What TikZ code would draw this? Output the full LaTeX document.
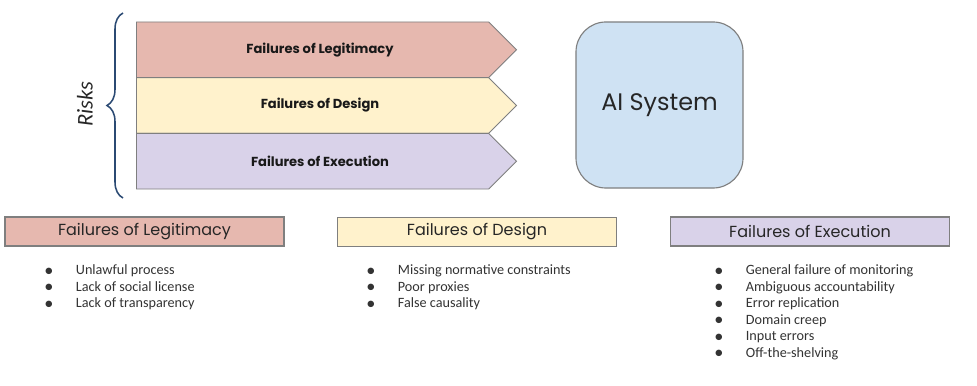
\documentclass[tikz,border=0pt]{standalone}
\usepackage{fontspec}
\setmainfont{Carlito}
\newfontfamily\gothic{Poppins}
\usetikzlibrary{positioning, shapes.symbols, decorations.pathreplacing}

\definecolor{legfill}{HTML}{E6B8AF}
\definecolor{desfill}{HTML}{FFF2CC}
\definecolor{exefill}{HTML}{D9D2E9}
\definecolor{sysfill}{HTML}{CFE2F3}
\definecolor{edgegray}{HTML}{7F7F7F}
\definecolor{bracenavy}{HTML}{2B4A73}

\newcommand{\dotitem}{\raisebox{-0.25ex}{\fontsize{13}{11}\selectfont\textbullet}}

\begin{document}
\begin{tikzpicture}[x=0.025cm, y=-0.025cm]
    % Define styles
    \tikzset{
        band/.style={signal, signal to=east, signal pointer angle=90, draw=edgegray, line width=0.6pt,
            minimum width=9.5cm, minimum height=1.392cm, inner sep=0pt, anchor=west},
        bandtext/.style={font=\gothic\bfseries\fontsize{9.3}{11}\selectfont, text=black!90},
        titlebox/.style={rectangle, draw=edgegray, line width=0.8pt, minimum width=6.975cm,
            minimum height=0.725cm, inner sep=0pt, font=\gothic\fontsize{11.4}{13}\selectfont, text=black!85},
        itemlist/.style={anchor=north west, inner sep=0pt, align=left, text=black!80,
            font=\fontsize{10.1}{11.7}\selectfont}
    }
    \useasboundingbox (0,0) rectangle (977,386);

    % Risk bands
    \node (legband) [band, fill=legfill] at (136,49.8) {};
    \node (desband) [band, fill=desfill] at (136,105.5) {};
    \node (exeband) [band, fill=exefill] at (136,161.2) {};
    \node [bandtext] at (320,49.8) {Failures of Legitimacy};
    \node [bandtext] at (320,105.5) {Failures of Design};
    \node [bandtext] at (320,161.2) {Failures of Execution};

    % Brace and label
    \draw [bracenavy, line width=1.1pt, decorate, decoration={brace, amplitude=0.4cm}] (123,198) -- (123,13);
    \node (risks) [rotate=90, font=\itshape\fontsize{16}{18}\selectfont, text=black!85] at (85,104) {Risks};

    % AI system
    \node (system) [rectangle, rounded corners=0.75cm, draw=edgegray, line width=0.8pt, fill=sysfill,
        minimum width=4.175cm, minimum height=4.15cm, font=\gothic\fontsize{17}{19}\selectfont, text=black!85]
        at (659.5,105) {AI System};

    % Category titles
    \node (legtitle) [titlebox, fill=legfill] at (144.5,231.5) {Failures of Legitimacy};
    \node (destitle) [titlebox, fill=desfill] at (477,232) {Failures of Design};
    \node (exetitle) [titlebox, fill=exefill] at (810,231.5) {Failures of Execution};

    % Lists
    \node (leglist) [itemlist] at (44,263) {\begin{tabular}{@{}l@{\hspace{16pt}}l@{}}
        \dotitem & Unlawful process\\
        \dotitem & Lack of social license\\
        \dotitem & Lack of transparency
        \end{tabular}};
    \node (deslist) [itemlist] at (366,263) {\begin{tabular}{@{}l@{\hspace{16pt}}l@{}}
        \dotitem & Missing normative constraints\\
        \dotitem & Poor proxies\\
        \dotitem & False causality
        \end{tabular}};
    \node (exelist) [itemlist] at (714,263) {\begin{tabular}{@{}l@{\hspace{16pt}}l@{}}
        \dotitem & General failure of monitoring\\
        \dotitem & Ambiguous accountability\\
        \dotitem & Error replication\\
        \dotitem & Domain creep\\
        \dotitem & Input errors\\
        \dotitem & Off-the-shelving
        \end{tabular}};
\end{tikzpicture}
\end{document}
